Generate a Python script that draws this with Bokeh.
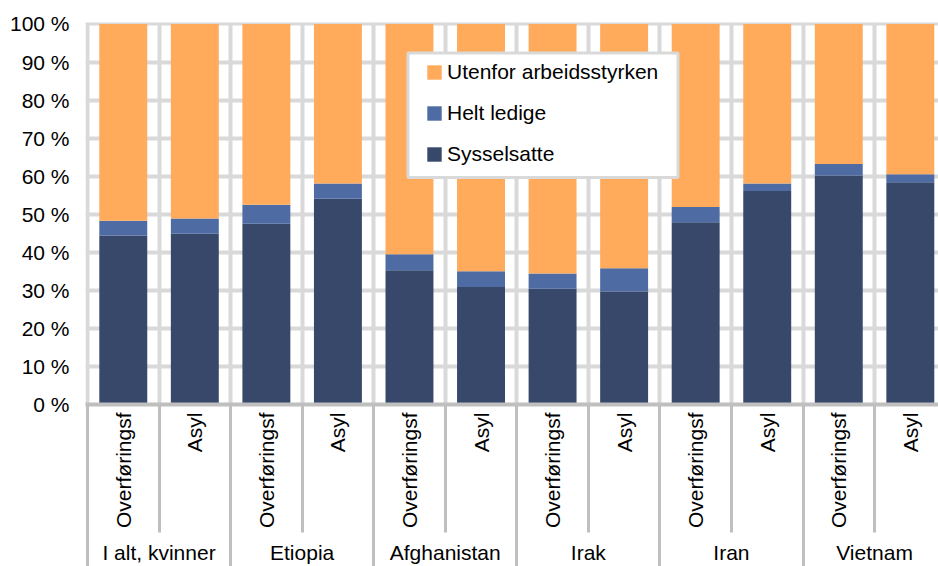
import math
from bokeh.plotting import figure
from bokeh.models import (ColumnDataSource, FixedTicker, LinearAxis, Legend,
                          LegendItem, BoxAnnotation, Range1d)
from bokeh.embed import file_html
from bokeh.resources import INLINE

# ---------------- data ----------------
groups = ["I alt, kvinner", "Etiopia", "Afghanistan", "Irak", "Iran", "Vietnam"]
subgroups = ["Overføringsf", "Asyl"]
sysselsatte = [44.4, 44.9, 47.5, 54.1, 35.3, 30.9, 30.4, 29.7, 47.9, 56.1, 60.2, 58.4]
helt_ledige = [3.9, 4.0, 5.0, 4.0, 4.2, 4.1, 4.0, 6.1, 4.0, 2.0, 3.0, 2.1]
utenfor = [51.7, 51.1, 47.5, 41.9, 60.5, 65.0, 65.6, 64.2, 48.1, 41.9, 36.8, 39.5]
series_names = ["Sysselsatte", "Helt ledige", "Utenfor arbeidsstyrken"]
series_colors = ["#37486B", "#4E6CA3", "#FFAB5B"]
y_ticks = [0, 10, 20, 30, 40, 50, 60, 70, 80, 90, 100]
y_tick_labels = ["0 %", "10 %", "20 %", "30 %", "40 %", "50 %",
                 "60 %", "70 %", "80 %", "90 %", "100 %"]

# ---------------- layout ----------------
FONT = "Liberation Sans"
FS = "21px"
W, H = 938, 566
BORDER_L, BORDER_T = 85, 22
FRAME_BOTTOM = 405
BORDER_B = H - FRAME_BOTTOM
PPX = 71.55                      # pixels per category
frame_w = W - BORDER_L
frame_h = FRAME_BOTTOM - BORDER_T
x_start = -2.0 / PPX
x_end = x_start + frame_w / PPX
y_end = 100.0 / (1 - 1.5 / frame_h)

n = len(sysselsatte)
bar_labels = [subgroups[i % len(subgroups)] for i in range(n)]
centers = [i + 0.5 for i in range(n)]
boundaries = [float(i) for i in range(n + 1)]
group_centers = [len(subgroups) * g + len(subgroups) / 2 for g in range(len(groups))]
group_bounds = [float(len(subgroups) * g) for g in range(len(groups) + 1)]

src = ColumnDataSource(dict(x=centers, Sysselsatte=sysselsatte,
                            ledige=helt_ledige, utenfor=utenfor))

p = figure(width=W, height=H, x_range=Range1d(x_start, x_end),
           y_range=Range1d(0, y_end), output_backend="svg",
           toolbar_location=None, x_axis_location=None,
           min_border_left=BORDER_L, min_border_right=0,
           min_border_top=BORDER_T, min_border_bottom=BORDER_B)
p.outline_line_color = None
p.background_fill_color = "white"
p.border_fill_color = "white"

# grids
p.xgrid.ticker = FixedTicker(ticks=boundaries)
p.ygrid.ticker = FixedTicker(ticks=y_ticks)
for g in (p.xgrid, p.ygrid):
    g.grid_line_color = "#D9D9D9"
    g.grid_line_width = 4

# y axis
ya = p.yaxis[0]
ya.ticker = FixedTicker(ticks=y_ticks)
ya.major_label_overrides = {t: l for t, l in zip(y_ticks, y_tick_labels)}
ya.axis_line_color = None
ya.major_tick_line_color = None
ya.minor_tick_line_color = None
ya.major_label_standoff = 10
ya.major_label_text_font = FONT
ya.major_label_text_font_size = FS
ya.major_label_text_color = "black"

# bars
rs = p.vbar_stack(["Sysselsatte", "ledige", "utenfor"], x="x", width=0.67,
                  fill_color=series_colors, line_color=None, source=src)

# inner category axis (Overføringsf / Asyl); long minor ticks = separators
SEP_IN = 128
inner = LinearAxis(
    ticker=FixedTicker(ticks=centers, minor_ticks=boundaries),
    major_label_overrides={c: l for c, l in zip(centers, bar_labels)},
    major_label_orientation=math.pi / 2,
    major_tick_out=0, major_tick_in=0,
    minor_tick_out=SEP_IN, minor_tick_in=0,
    minor_tick_line_color="#BFBFBF", minor_tick_line_width=3,
    axis_line_color="#BFBFBF", axis_line_width=4,
    major_label_standoff=8 - SEP_IN,
    major_label_text_font=FONT, major_label_text_font_size=FS,
    major_label_text_color="black")
p.add_layout(inner, "below")

# outer group axis
SEP_OUT = 45
outer = LinearAxis(
    ticker=FixedTicker(ticks=group_centers, minor_ticks=group_bounds),
    major_label_overrides={c: l for c, l in zip(group_centers, groups)},
    major_tick_out=0, major_tick_in=0,
    minor_tick_out=SEP_OUT, minor_tick_in=0,
    minor_tick_line_color="#BFBFBF", minor_tick_line_width=3,
    axis_line_color=None,
    major_label_standoff=9 - SEP_OUT,
    major_label_text_font=FONT, major_label_text_font_size=FS,
    major_label_text_color="black")
p.add_layout(outer, "below")

# legend frame (pixel layout converted to data space)
def px2x(px):
    return x_start + (px - BORDER_L) / PPX
def py2y(py):
    return y_end - (py - BORDER_T) * y_end / frame_h

box = BoxAnnotation(left=px2x(407.5), right=px2x(677.5),
                    top=py2y(52.5), bottom=py2y(177.5),
                    fill_color="white", fill_alpha=1.0,
                    line_color="#D9D9D9", line_width=3, line_alpha=1.0,
                    line_dash="solid")
p.add_layout(box)

legend = Legend(items=[LegendItem(label=series_names[i], renderers=[rs[i]])
                       for i in (2, 1, 0)],
                location=(340, 238), orientation="vertical",
                background_fill_alpha=0, border_line_alpha=0,
                padding=0, margin=0, spacing=17,
                glyph_width=18, glyph_height=18, label_standoff=4,
                label_text_font=FONT, label_text_font_size=FS,
                label_text_color="black")
p.add_layout(legend)

open("out.html", "w").write(file_html(p, INLINE))
